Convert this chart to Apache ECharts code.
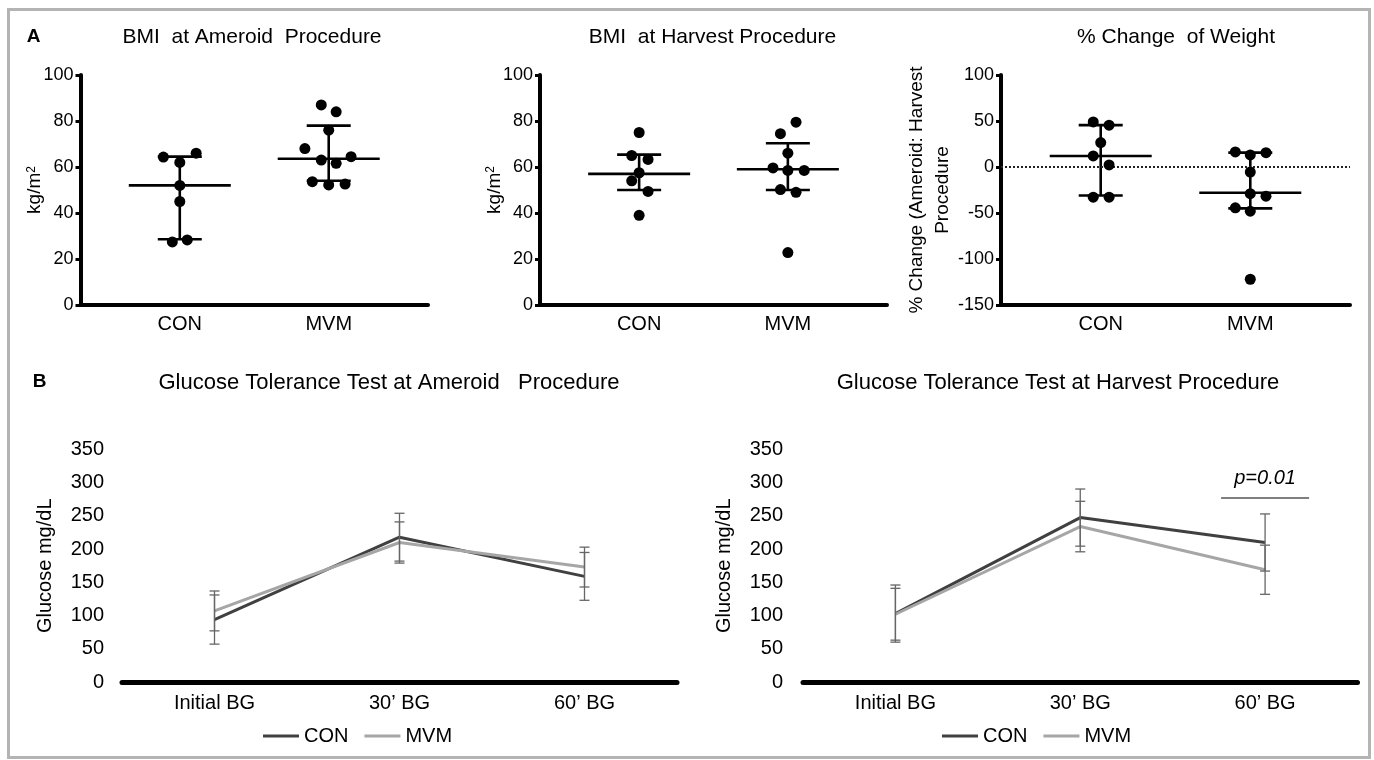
<!DOCTYPE html>
<html><head><meta charset="utf-8">
<script src="https://cdn.jsdelivr.net/npm/echarts@6/dist/echarts.min.js"></script>
<style>html,body{margin:0;padding:0;background:#fff}#c{width:1374px;height:760px}</style>
</head><body><div id="c"></div>
<script>
// ---------- data ----------
const groups = ['CON', 'MVM'];
// Panel A1: BMI at Ameroid procedure  [x position (1=CON, 2=MVM, with jitter), value]
const bmiAmeroidCON = [[0.89,64.3],[1.11,66],[1.0,62],[1.0,52],[1.0,45],[0.95,27.4],[1.05,28.3]];
const bmiAmeroidMVM = [[1.95,87],[2.05,84],[2.0,76],[1.84,68],[1.95,63],[2.05,61.6],[2.15,64.5],[1.89,53.6],[2.0,52.2],[2.11,52.6]];
// [group x, median, lower, upper]
const bmiAmeroidSummary = [[1,52,28.6,64.5],[2,63.6,54,78]];
// Panel A2: BMI at Harvest procedure
const bmiHarvestCON = [[1.0,75],[0.95,65],[1.06,63.3],[1.0,57.5],[0.95,54],[1.06,49.4],[1.0,39]];
const bmiHarvestMVM = [[1.95,74.5],[2.055,79.5],[2.0,66],[1.9,59.6],[2.0,58.5],[2.11,58.5],[1.95,50.2],[2.055,49],[2.0,22.8]];
const bmiHarvestSummary = [[1,57,50,65.4],[2,59,50,70.3]];
// Panel A3: % change of weight
const pctChangeCON = [[0.95,49],[1.056,45.5],[1.0,26.6],[0.95,12],[1.056,2.2],[0.95,-32.8],[1.056,-32.8]];
const pctChangeMVM = [[1.9,16.4],[2.0,13.1],[2.105,15.6],[2.0,-5.5],[2.0,-29],[2.105,-31.7],[1.9,-44.4],[2.0,-48],[2.0,-122]];
const pctChangeSummary = [[1,12,-31,45.5],[2,-28,-45,15.6]];
// Panel B: glucose tolerance tests
const bgLabels = ['Initial BG', '30\u2019 BG', '60\u2019 BG'];
const gttAmeroidCON = [94, 218, 159];
const gttAmeroidCONErr = [37, 36, 36];
const gttAmeroidMVM = [107, 210, 173];
const gttAmeroidMVMErr = [30, 31, 30];
const gttHarvestCON = [103, 247.5, 210];
const gttHarvestCONErr = [43, 43, 43];
const gttHarvestMVM = [102, 234, 169];
const gttHarvestMVMErr = [39, 38, 37];
const pAnnotation = {text: 'p=0.01', category: 2, value: 277};

// ---------- styling ----------
const FONT = '"Liberation Sans", Arial, Helvetica, sans-serif';
const CON_COLOR = '#404040';
const MVM_COLOR = '#a6a6a6';

function errData(vals, errs) { return vals.map((v, i) => [i, v, errs[i]]); }

function summaryRender(params, api) {
  const x = api.value(0);
  const c = api.coord([x, api.value(1)]);
  const lo = api.coord([x, api.value(2)]);
  const hi = api.coord([x, api.value(3)]);
  const st = {stroke: '#000', lineWidth: 2.6};
  return {type: 'group', children: [
    {type: 'line', shape: {x1: c[0]-51, y1: c[1], x2: c[0]+51, y2: c[1]}, style: st},
    {type: 'line', shape: {x1: lo[0], y1: lo[1], x2: hi[0], y2: hi[1]}, style: st},
    {type: 'line', shape: {x1: lo[0]-22, y1: lo[1], x2: lo[0]+22, y2: lo[1]}, style: st},
    {type: 'line', shape: {x1: hi[0]-22, y1: hi[1], x2: hi[0]+22, y2: hi[1]}, style: st}
  ]};
}
function errRender(params, api) {
  const x = api.value(0), v = api.value(1), e = api.value(2);
  const hi = api.coord([x, v + e]);
  const lo = api.coord([x, v - e]);
  const st = {stroke: '#666', lineWidth: 1.3};
  return {type: 'group', children: [
    {type: 'line', shape: {x1: hi[0], y1: hi[1], x2: lo[0], y2: lo[1]}, style: st},
    {type: 'line', shape: {x1: hi[0]-5, y1: hi[1], x2: hi[0]+5, y2: hi[1]}, style: st},
    {type: 'line', shape: {x1: lo[0]-5, y1: lo[1], x2: lo[0]+5, y2: lo[1]}, style: st}
  ]};
}
function pRender(params, api) {
  const p = api.coord([api.value(0), api.value(1)]);
  return {type: 'group', children: [
    {type: 'line', shape: {x1: p[0]-44, y1: p[1], x2: p[0]+44, y2: p[1]}, style: {stroke: '#555', lineWidth: 1.3}},
    {type: 'text', x: p[0], y: p[1]-20, style: {text: pAnnotation.text, font: 'italic 20px ' + FONT, fill: '#000',
      align: 'center', verticalAlign: 'middle', textAlign: 'center', textVerticalAlign: 'middle'}}
  ]};
}

const aGrids = [
  {left: 80.5, right: 946, top: 75, bottom: 455},
  {left: 540, right: 487, top: 75, bottom: 455},
  {left: 1001, right: 24, top: 75, bottom: 455}
];
const bGrids = [
  {left: 122, right: 697, top: 449.5, bottom: 78},
  {left: 803, right: 16.5, top: 449.5, bottom: 78}
];

function aXAxis(i) {
  return {gridIndex: i, type: 'value', min: 1/3, max: 8/3,
    axisLine: {onZero: false, lineStyle: {color: '#000', width: 4}},
    axisTick: {show: false}, splitLine: {show: false},
    axisLabel: {customValues: [1, 2], formatter: v => groups[Math.round(v) - 1],
      color: '#000', fontSize: 20, margin: 9, fontFamily: FONT}};
}
function aYAxis(i, min, max, interval, name, nameGap, nameStyle) {
  return {gridIndex: i, type: 'value', min: min, max: max, interval: interval,
    axisLine: {show: true, onZero: false, lineStyle: {color: '#000', width: 4}},
    axisTick: {show: true, length: 5, lineStyle: {color: '#000', width: 3}},
    splitLine: {show: false},
    axisLabel: {color: '#000', fontSize: 18, margin: 7, fontFamily: FONT},
    name: name, nameLocation: 'middle', nameGap: nameGap, nameMoveOverlap: false,
    nameTextStyle: Object.assign({color: '#000', fontSize: 19, fontFamily: FONT}, nameStyle || {})};
}
function bXAxis(i) {
  return {gridIndex: i, type: 'category', data: bgLabels, boundaryGap: true,
    axisLine: {lineStyle: {color: '#000', width: 5}}, axisTick: {show: false},
    axisLabel: {color: '#000', fontSize: 20, margin: 11, fontFamily: FONT}};
}
function bYAxis(i, nameGap, margin) {
  return {gridIndex: i, type: 'value', min: 0, max: 350, interval: 50,
    axisLine: {show: false}, axisTick: {show: false}, splitLine: {show: false},
    axisLabel: {color: '#000', fontSize: 20, margin: margin, fontFamily: FONT},
    name: 'Glucose mg/dL', nameLocation: 'middle', nameGap: nameGap, nameMoveOverlap: false,
    nameTextStyle: {color: '#000', fontSize: 20, fontFamily: FONT}};
}

function scatter(name, i, data) {
  return {name: name, type: 'scatter', xAxisIndex: i, yAxisIndex: i, data: data,
    symbolSize: 11, itemStyle: {color: '#000', opacity: 1}, z: 5, silent: true};
}
function summary(name, i, data) {
  return {name: name, type: 'custom', xAxisIndex: i, yAxisIndex: i, data: data,
    renderItem: summaryRender, z: 4, silent: true};
}
function gttLine(name, i, data, color) {
  return {name: name, type: 'line', xAxisIndex: i, yAxisIndex: i, data: data,
    symbol: 'none', color: color, lineStyle: {width: 3, color: color}, z: 3, silent: true};
}
function gttErr(name, i, data) {
  return {name: name, type: 'custom', xAxisIndex: i, yAxisIndex: i, data: data,
    renderItem: errRender, z: 6, silent: true};
}

function txt(text, x, y, font) {
  return {type: 'text', x: x, y: y, silent: true,
    style: {text: text, font: font, fill: '#000', align: 'center', verticalAlign: 'middle',
      textAlign: 'center', textVerticalAlign: 'middle'}};
}

const legendBase = {data: ['CON', 'MVM'], icon: 'rect', itemWidth: 36, itemHeight: 3, itemGap: 16,
  padding: 0, selectedMode: false, textStyle: {color: '#000', fontSize: 20, fontFamily: FONT}};

const supRich = {rich: {sup: {fontSize: 12, verticalAlign: 'top', fontFamily: FONT, color: '#000'}}};

const option = {
  animation: false,
  backgroundColor: '#fff',
  grid: aGrids.concat(bGrids),
  xAxis: [aXAxis(0), aXAxis(1), aXAxis(2), bXAxis(3), bXAxis(4)],
  yAxis: [
    aYAxis(0, 0, 100, 20, 'kg/m{sup|2}', 36, supRich),
    aYAxis(1, 0, 100, 20, 'kg/m{sup|2}', 36, supRich),
    aYAxis(2, -150, 100, 50, '% Change (Ameroid: Harvest\nProcedure', 45, {lineHeight: 26}),
    bYAxis(3, 67, 18),
    bYAxis(4, 69, 20)
  ],
  legend: [
    Object.assign({left: 263, top: 726}, legendBase),
    Object.assign({left: 942, top: 726}, legendBase)
  ],
  series: [
    summary('A1 summary', 0, bmiAmeroidSummary),
    scatter('A1 CON', 0, bmiAmeroidCON),
    scatter('A1 MVM', 0, bmiAmeroidMVM),
    summary('A2 summary', 1, bmiHarvestSummary),
    scatter('A2 CON', 1, bmiHarvestCON),
    scatter('A2 MVM', 1, bmiHarvestMVM),
    summary('A3 summary', 2, pctChangeSummary),
    Object.assign(scatter('A3 CON', 2, pctChangeCON), {
      markLine: {silent: true, symbol: 'none', label: {show: false},
        lineStyle: {type: [2, 2], color: '#222', width: 2, opacity: 1}, data: [{yAxis: 0}]}}),
    scatter('A3 MVM', 2, pctChangeMVM),
    gttLine('CON', 3, gttAmeroidCON, CON_COLOR),
    gttLine('MVM', 3, gttAmeroidMVM, MVM_COLOR),
    gttErr('B1 CON err', 3, errData(gttAmeroidCON, gttAmeroidCONErr)),
    gttErr('B1 MVM err', 3, errData(gttAmeroidMVM, gttAmeroidMVMErr)),
    gttLine('CON', 4, gttHarvestCON, CON_COLOR),
    gttLine('MVM', 4, gttHarvestMVM, MVM_COLOR),
    gttErr('B2 CON err', 4, errData(gttHarvestCON, gttHarvestCONErr)),
    gttErr('B2 MVM err', 4, errData(gttHarvestMVM, gttHarvestMVMErr)),
    {name: 'p value', type: 'custom', xAxisIndex: 4, yAxisIndex: 4,
      data: [[pAnnotation.category, pAnnotation.value]], renderItem: pRender, z: 7, silent: true}
  ],
  graphic: [
    {type: 'rect', silent: true, shape: {x: 8.5, y: 9.5, width: 1361, height: 748},
      style: {fill: 'none', stroke: '#b4b4b4', lineWidth: 3}},
    txt('A', 33.5, 37, 'bold 19px ' + FONT),
    txt('B', 39.5, 382, 'bold 19px ' + FONT),
    txt('BMI  at Ameroid  Procedure', 252, 37, '21px ' + FONT),
    txt('BMI  at Harvest Procedure', 712.5, 37, '21px ' + FONT),
    txt('% Change  of Weight', 1176, 37, '21px ' + FONT),
    txt('Glucose Tolerance Test at Ameroid   Procedure', 389, 383, '22px ' + FONT),
    txt('Glucose Tolerance Test at Harvest Procedure', 1058, 383, '22px ' + FONT)
  ]
};

const chart = echarts.init(document.getElementById('c'), null, {renderer: 'canvas'});
chart.setOption(option);
</script>
</body></html>
